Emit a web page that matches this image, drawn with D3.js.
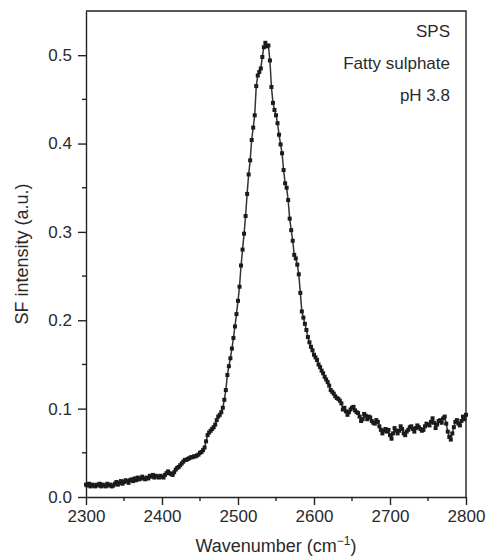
<!DOCTYPE html>
<html>
<head>
<meta charset="utf-8">
<script src="https://cdn.jsdelivr.net/npm/d3@7"></script>
<style>
  body { margin: 0; background: #fff; }
  svg { display: block; font-family: "Liberation Sans", Arial, sans-serif; }
</style>
</head>
<body>
<svg width="488" height="557"></svg>
<script>
// spectrum sampled every 2 cm-1 from 2300 to 2800
var startWavenumber = 2300,
  stepWavenumber = 2;

var intensity = [
  0.014, 0.013, 0.015, 0.012, 0.014, 0.013, 0.012, 0.014, 0.013, 0.015,
  0.012, 0.014, 0.013, 0.012, 0.015, 0.013, 0.014, 0.012, 0.013, 0.015,
  0.017, 0.014, 0.016, 0.018, 0.015, 0.017, 0.019, 0.018, 0.016, 0.019,
  0.020, 0.018, 0.021, 0.019, 0.022, 0.020, 0.021, 0.023, 0.021, 0.020,
  0.022, 0.021, 0.024, 0.023, 0.025, 0.022, 0.024, 0.023, 0.022, 0.024,
  0.023, 0.022, 0.025, 0.027, 0.029, 0.027, 0.026, 0.025, 0.028, 0.031,
  0.033, 0.034, 0.036, 0.038, 0.040, 0.042, 0.042, 0.043, 0.044, 0.045,
  0.045, 0.046, 0.046, 0.047, 0.048, 0.050, 0.051, 0.053, 0.056, 0.063,
  0.070, 0.073, 0.075, 0.077, 0.079, 0.082, 0.087, 0.091, 0.093, 0.096,
  0.101, 0.110, 0.121, 0.138, 0.148, 0.157, 0.168, 0.180, 0.193, 0.207,
  0.222, 0.238, 0.262, 0.280, 0.298, 0.318, 0.343, 0.365, 0.381, 0.404,
  0.418, 0.432, 0.465, 0.477, 0.481, 0.485, 0.498, 0.509, 0.514, 0.510,
  0.511, 0.494, 0.464, 0.446, 0.438, 0.432, 0.423, 0.410, 0.399, 0.389,
  0.370, 0.355, 0.350, 0.336, 0.315, 0.302, 0.290, 0.274, 0.270, 0.263,
  0.252, 0.231, 0.210, 0.203, 0.196, 0.189, 0.181, 0.175, 0.170, 0.166,
  0.161, 0.158, 0.155, 0.150, 0.147, 0.143, 0.140, 0.136, 0.133, 0.130,
  0.126, 0.121, 0.119, 0.117, 0.114, 0.112, 0.111, 0.109, 0.106, 0.099,
  0.101, 0.097, 0.093, 0.096, 0.099, 0.101, 0.102, 0.098, 0.096, 0.095,
  0.091, 0.086, 0.088, 0.094, 0.092, 0.088, 0.091, 0.090, 0.086, 0.084,
  0.083, 0.087, 0.085, 0.080, 0.076, 0.072, 0.075, 0.077, 0.074, 0.076,
  0.070, 0.066, 0.072, 0.078, 0.075, 0.072, 0.075, 0.080, 0.077, 0.072,
  0.070, 0.074, 0.076, 0.079, 0.080, 0.077, 0.074, 0.078, 0.081, 0.079,
  0.077, 0.075, 0.076, 0.080, 0.083, 0.082, 0.081, 0.085, 0.089, 0.084,
  0.078, 0.082, 0.086, 0.087, 0.084, 0.089, 0.091, 0.083, 0.074, 0.068,
  0.065, 0.072, 0.079, 0.085, 0.087, 0.083, 0.081, 0.086, 0.091, 0.088,
  0.093
];

var xTicks = [2300, 2400, 2500, 2600, 2700, 2800];
var xMinorTicks = [2350, 2450, 2550, 2650, 2750];
var yTicks = [0.0, 0.1, 0.2, 0.3, 0.4, 0.5];
var yMinorTicks = [0.05, 0.15, 0.25, 0.35, 0.45];
var labels = ["SPS", "Fatty sulphate", "pH 3.8"];

var data = intensity.map(function(v, i) {
  return { wn: startWavenumber + i * stepWavenumber, value: v };
});

var svg = d3.select("svg");
var margin = { top: 11, right: 22, bottom: 60, left: 86 },
  width = +svg.attr("width") - margin.left - margin.right,
  height = +svg.attr("height") - margin.top - margin.bottom;

var x = d3.scaleLinear().domain([2300, 2800]).range([0, width]);
var y = d3.scaleLinear().domain([0, 0.55]).range([height, 0]);

var g = svg
  .append("g")
  .attr("transform", "translate(" + margin.left + "," + margin.top + ")");

// frame (top + right)
g.append("path")
  .attr("d", "M0,0H" + width + "V" + height)
  .attr("fill", "none")
  .attr("stroke", "#222")
  .attr("stroke-width", 1.4);

// x axis
var xAxis = g.append("g").attr("transform", "translate(0," + height + ")");
xAxis.call(
  d3.axisBottom(x).tickValues(xTicks).tickSize(8).tickSizeOuter(0).tickPadding(5)
    .tickFormat(d3.format("d"))
);
xAxis.append("g")
  .selectAll("line")
  .data(xMinorTicks)
  .join("line")
  .attr("x1", function(d) { return x(d); })
  .attr("x2", function(d) { return x(d); })
  .attr("y1", 0)
  .attr("y2", 4);

// y axis
var yAxis = g.append("g");
yAxis.call(
  d3.axisLeft(y).tickValues(yTicks).tickSize(8).tickSizeOuter(0).tickPadding(6)
    .tickFormat(d3.format(".1f"))
);
yAxis.append("g")
  .selectAll("line")
  .data(yMinorTicks)
  .join("line")
  .attr("x1", 0)
  .attr("x2", -4)
  .attr("y1", function(d) { return y(d); })
  .attr("y2", function(d) { return y(d); });

[xAxis, yAxis].forEach(function(a) {
  a.selectAll("path.domain").attr("stroke", "#222").attr("stroke-width", 1.4);
  a.selectAll("line").attr("stroke", "#222").attr("stroke-width", 1.4);
  a.selectAll("text")
    .attr("fill", "#2a2a2a")
    .style("font-size", "17px")
    .style("font-family", "'Liberation Sans', Arial, sans-serif");
});

// curve
var line = d3
  .line()
  .x(function(d) { return x(d.wn); })
  .y(function(d) { return y(d.value); });

g.append("path")
  .datum(data)
  .attr("fill", "none")
  .attr("stroke", "#333")
  .attr("stroke-width", 1.5)
  .attr("d", line);

g.append("g")
  .selectAll("rect")
  .data(data)
  .join("rect")
  .attr("x", function(d) { return x(d.wn) - 2; })
  .attr("y", function(d) { return y(d.value) - 2; })
  .attr("width", 4)
  .attr("height", 4)
  .attr("fill", "#1e1a1a");

// annotation
g.append("g")
  .selectAll("text")
  .data(labels)
  .join("text")
  .attr("x", width - 16)
  .attr("y", function(d, i) { return 26 + i * 32; })
  .attr("text-anchor", "end")
  .attr("fill", "#2a2a2a")
  .style("font-size", "17px")
  .text(function(d) { return d; });

// axis titles
var xTitle = svg.append("text")
  .attr("x", margin.left + width / 2)
  .attr("y", 552)
  .attr("text-anchor", "middle")
  .attr("fill", "#2a2a2a")
  .style("font-size", "18px");
xTitle.append("tspan").text("Wavenumber (cm");
xTitle.append("tspan").attr("dy", -7).style("font-size", "12px").text("\u22121");
xTitle.append("tspan").attr("dy", 7).text(")");

svg.append("text")
  .attr("transform", "translate(28," + (margin.top + height / 2) + ") rotate(-90)")
  .attr("text-anchor", "middle")
  .attr("fill", "#2a2a2a")
  .style("font-size", "18px")
  .text("SF intensity (a.u.)");
</script>
</body>
</html>
